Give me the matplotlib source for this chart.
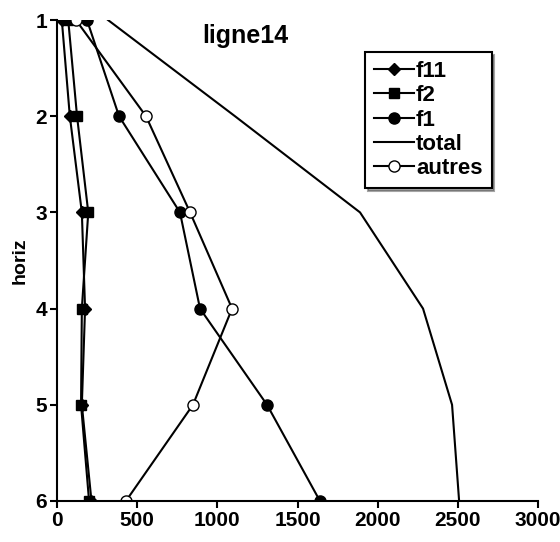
import matplotlib.pyplot as plt

plt.rcParams['font.family'] = ['Liberation Sans', 'DejaVu Sans']

# horizon index (1 = top)
horiz = [1, 2, 3, 4, 5, 6]

f11 = [30, 80, 155, 175, 155, 215]
f2 = [70, 125, 195, 155, 150, 200]
f1 = [187, 387, 767, 892, 1310, 1640]
total = [318, 1110, 1890, 2283, 2464, 2508]
autres = [118, 555, 830, 1092, 848, 430]

fig = plt.figure(figsize=(5.6, 5.42), dpi=100)
ax = fig.add_axes([57 / 560, 1 - 501 / 542, (538 - 57) / 560, (501 - 20) / 542])

lw = 1.5
ax.plot(f11, horiz, color='black', lw=lw, marker='D', ms=6, label='f11')
ax.plot(f2, horiz, color='black', lw=lw, marker='s', ms=7, label='f2')
ax.plot(f1, horiz, color='black', lw=lw, marker='o', ms=8, label='f1')
ax.plot(total, horiz, color='black', lw=lw, label='total')
ax.plot(autres, horiz, color='black', lw=lw, marker='o', ms=8,
        markerfacecolor='white', label='autres')

ax.set_xlim(0, 3000)
ax.set_ylim(6, 1)
ax.set_xticks([0, 500, 1000, 1500, 2000, 2500, 3000])
ax.set_yticks(horiz)
ax.spines['top'].set_visible(False)
ax.spines['right'].set_visible(False)
ax.spines['left'].set_linewidth(lw)
ax.spines['bottom'].set_linewidth(lw)
ax.tick_params(width=lw, length=5, labelsize=15, pad=2)
for lab in ax.get_xticklabels() + ax.get_yticklabels():
    lab.set_fontweight('bold')

ax.set_ylabel('horiz', fontsize=14, fontweight='bold', labelpad=5)
fig.text(245 / 560, 1 - 36 / 542, 'ligne14', fontsize=18, fontweight='bold',
         ha='center', va='center')

leg = ax.legend(loc='upper left', bbox_to_anchor=((365 - 57) / 481, 1 - (52 - 20) / 481),
                frameon=True, fancybox=False, shadow=True, edgecolor='black',
                fontsize=16, handlelength=1.8, handletextpad=0.1, labelspacing=0.15,
                borderpad=0.4, borderaxespad=0)
leg.get_frame().set_linewidth(lw)
for t in leg.get_texts():
    t.set_fontweight('bold')

fig.savefig('out.png', dpi=100)
